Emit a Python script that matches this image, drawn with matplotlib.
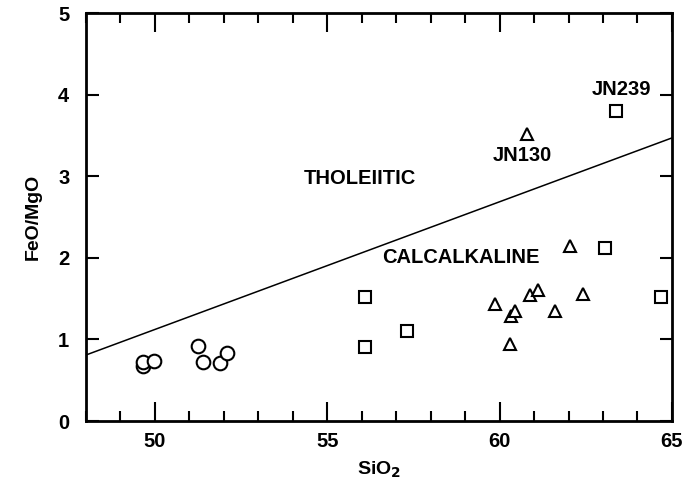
import matplotlib.pyplot as plt
from matplotlib.ticker import MultipleLocator
import numpy as np

# data
circle_x = [49.64, 49.66, 49.97, 51.26, 51.40, 51.90, 52.08]
circle_y = [0.67, 0.73, 0.74, 0.92, 0.73, 0.71, 0.84]

square_x = [56.09, 56.09, 57.31, 63.38, 63.06, 64.69]
square_y = [1.52, 0.91, 1.10, 3.80, 2.12, 1.52]

triangle_x = [60.80, 62.03, 59.86, 60.34, 60.46, 60.87, 61.11, 61.62, 62.43, 60.31]
triangle_y = [3.52, 2.14, 1.44, 1.29, 1.35, 1.54, 1.61, 1.35, 1.56, 0.94]

# tholeiitic / calcalkaline dividing line
divide_x = [48, 65]
divide_y = [0.81, 3.47]

labels = [('JN239', 63.53, 4.06), ('JN130', 60.67, 3.26),
          ('THOLEIITIC', 55.94, 2.97), ('CALCALKALINE', 58.89, 2.01)]

plt.rcParams['font.family'] = ['Liberation Sans', 'DejaVu Sans']
plt.rcParams['font.weight'] = 'bold'

fig = plt.figure(figsize=(6.92, 4.84), dpi=100)
ax = fig.add_axes([0.1243, 0.130, 0.8467, 0.843])

ax.plot(divide_x, divide_y, color='black', linewidth=1.1)

mk = dict(linestyle='none', markerfacecolor='white', markeredgecolor='black', markeredgewidth=1.5)
ax.plot(circle_x, circle_y, marker='o', markersize=9.8, **mk)
ax.plot(square_x, square_y, marker='s', markersize=8.8, **mk)
ax.plot(triangle_x, triangle_y, marker='^', markersize=9.0, **mk)

for txt, x, y in labels:
    ax.text(x, y, txt, ha='center', va='center', fontsize=14.5, fontweight='bold')

ax.set_xlim(48, 65)
ax.set_ylim(0, 5)
ax.xaxis.set_major_locator(MultipleLocator(5))
ax.xaxis.set_minor_locator(MultipleLocator(1))
ax.yaxis.set_major_locator(MultipleLocator(1))

ax.tick_params(axis='x', which='major', direction='in', top=True, length=14, width=1.5,
               labelsize=14.5, pad=8)
ax.tick_params(axis='x', which='minor', direction='in', top=True, length=7, width=1.5)
ax.tick_params(axis='y', which='major', direction='in', right=True, length=9, width=1.5,
               labelsize=14.5, pad=12)

for s in ax.spines.values():
    s.set_linewidth(2)

ax.set_xlabel('SiO$_2$', fontsize=14, fontweight='bold', labelpad=6)
ax.set_ylabel('FeO/MgO', fontsize=14, fontweight='bold', labelpad=12)

fig.savefig('out.png', dpi=100)
